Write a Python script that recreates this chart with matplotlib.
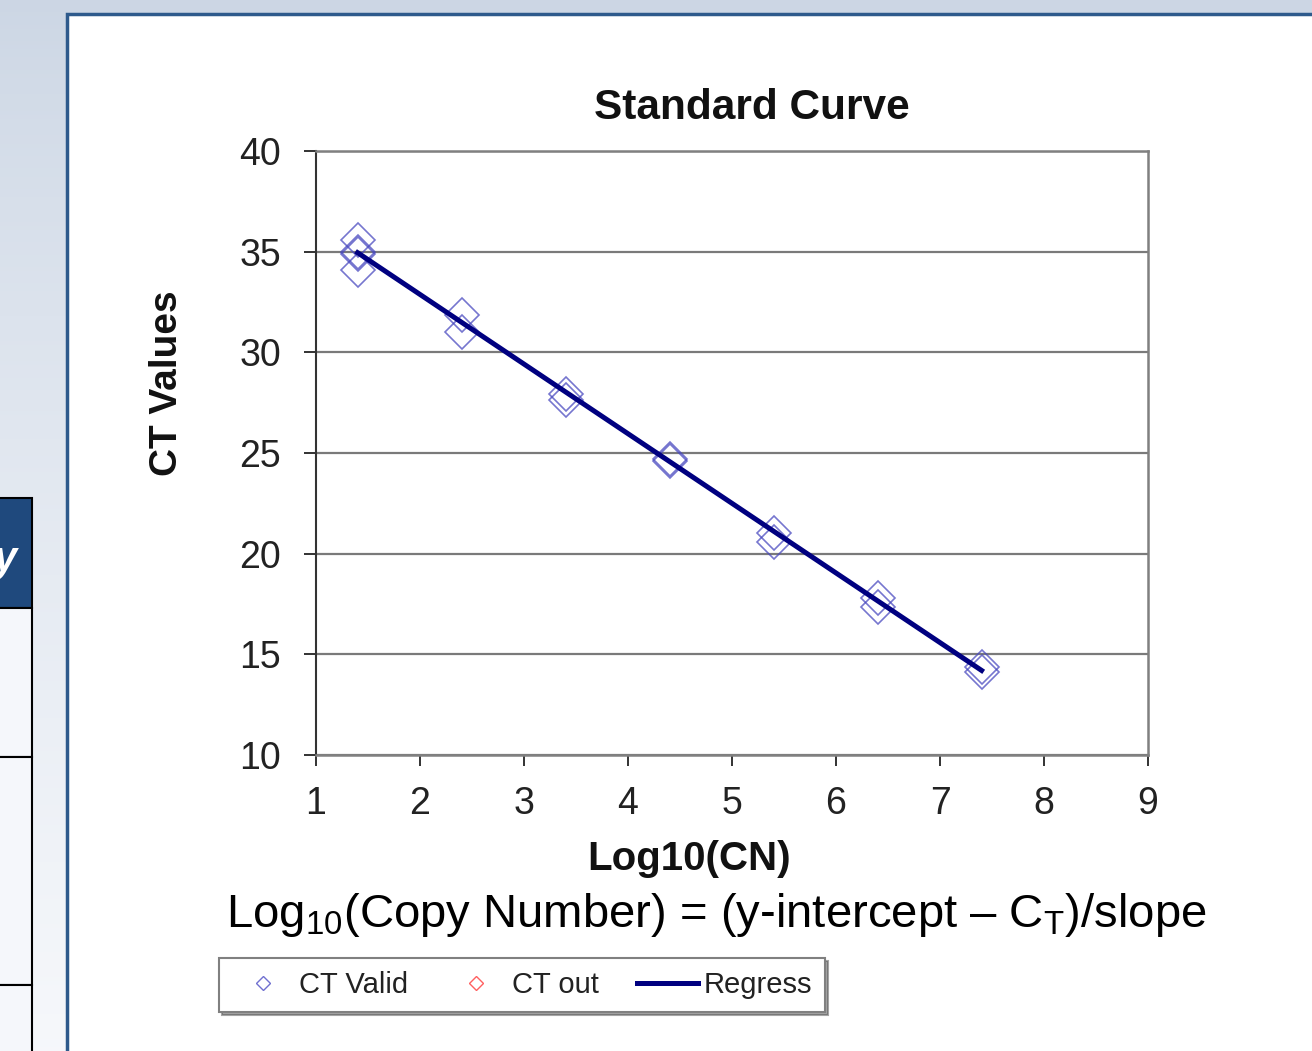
import numpy as np
import matplotlib
matplotlib.use("Agg")
import matplotlib.pyplot as plt
from matplotlib.lines import Line2D
from matplotlib.patches import Rectangle

plt.rcParams['font.family'] = ['Liberation Sans', 'DejaVu Sans']
plt.rcParams['mathtext.fontset'] = 'custom'
plt.rcParams['mathtext.rm'] = 'Liberation Sans'
plt.rcParams['mathtext.default'] = 'regular'

# Daten
log_cn = [1.4, 1.4, 1.4, 1.4, 2.4, 2.4, 3.4, 3.4, 4.4, 4.4, 5.4, 5.4, 6.4, 6.4, 7.4, 7.4]
ct_valid = [35.6, 35.0, 34.9, 34.1, 31.85, 31.0, 27.95, 27.65, 24.7, 24.6, 21.05, 20.6, 17.8, 17.35, 14.35, 14.1]
ct_out_x = []
ct_out_y = []
regress_x = [1.4, 7.4]
regress_y = [34.95, 14.2]

x_ticks = [1, 2, 3, 4, 5, 6, 7, 8, 9]
y_ticks = [10, 15, 20, 25, 30, 35, 40]

W, H = 1312, 1051

def fx(px):
    return px / W

def fy(py):
    return 1 - py / H

fig = plt.figure(figsize=(W / 100, H / 100), dpi=100)

# Hintergrund der Folie
bg = fig.add_axes([0, 0, 1, 1], zorder=-10)
t = np.linspace(0, 1, 256)[:, None]
top = np.array([0.80, 0.84, 0.895])
bottom = np.array([0.965, 0.972, 0.985])
grad = top + (bottom - top) * t ** 0.8
grad = np.repeat(grad[:, None, :], 2, axis=1)
bg.imshow(grad, extent=[0, W, H, 0], aspect='auto')
bg.set_xlim(0, W)
bg.set_ylim(H, 0)
bg.axis('off')

# Tabelle links
kopf = Rectangle((-10, 498), 42, 110, fc='#1f497d', ec='black', lw=1.5)
bg.add_patch(kopf)
for y0, y1 in [(608, 757), (757, 985), (985, 1100)]:
    bg.add_patch(Rectangle((-10, y0), 42, y1 - y0, fc='#f5f7fb', ec='black', lw=1.5))
ytxt = bg.text(-6, 560, 'y', color='white', fontsize=30, fontweight='bold', style='italic',
               va='center', ha='left')
ytxt.set_clip_path(kopf)

# weisses Panel
bg.add_patch(Rectangle((67, 14), 1400, 1200, fc='white', ec='#2e5a8c', lw=2.5))

# Diagramm
ax = fig.add_axes([fx(316), fy(755), fx(1148) - fx(316), fy(151) - fy(755)])
ax.plot(log_cn, ct_valid, ls='none', marker='D', ms=17, mfc='none', mec='#4848c0',
        mew=1.2, alpha=0.75, zorder=3)
ax.plot(ct_out_x, ct_out_y, ls='none', marker='D', ms=17, mfc='none', mec='#ff6060')
ax.plot(regress_x, regress_y, color='#000080', lw=3.6, zorder=4)

ax.set_xlim(1, 9)
ax.set_ylim(10, 40)
ax.set_xticks(x_ticks)
ax.set_yticks(y_ticks)
ax.grid(axis='y', color='#7a7a7a', lw=1.6)
ax.set_axisbelow(True)
for s in ['top', 'right', 'bottom']:
    ax.spines[s].set_color('#808080')
    ax.spines[s].set_linewidth(1.8)
ax.spines['left'].set_color('#333333')
ax.spines['left'].set_linewidth(1.5)
ax.tick_params(axis='y', length=9, width=1.3, pad=16, labelsize=27, colors='#222222')
ax.tick_params(axis='x', length=8, width=1.3, pad=14, labelsize=27, colors='#222222')

fig.text(fx(752), fy(119), 'Standard Curve', fontsize=30.5, fontweight='bold',
         ha='center', va='baseline', color='#111111')
fig.text(fx(689), fy(870), 'Log10(CN)', fontsize=29, fontweight='bold',
         ha='center', va='baseline', color='#111111')
fig.text(fx(167), fy(383), 'CT Values', fontsize=28, fontweight='bold', rotation=90,
         ha='center', va='center', color='#111111')
fig.text(fx(716), fy(927), 'Log$_{10}$(Copy Number) = (y-intercept \u2013 C$_{T}$)/slope',
         fontsize=34, ha='center', va='baseline', color='black')

handles = [
    Line2D([], [], ls='none', marker='D', ms=7, mfc='none', mec='#7070d0', mew=1.0),
    Line2D([], [], ls='none', marker='D', ms=7, mfc='none', mec='#ff6060', mew=1.0),
    Line2D([], [], color='#000080', lw=3.6),
]
leg = fig.legend(handles, ['CT Valid', 'CT out', 'Regress'], ncol=3, loc='center',
                 bbox_to_anchor=(fx(522), fy(985)), fontsize=21, frameon=True,
                 fancybox=False, shadow=True, edgecolor='#808080', handlelength=2.1,
                 handletextpad=0.18, columnspacing=1.3, borderpad=0.45)
leg.get_frame().set_linewidth(1.5)
for txt in leg.get_texts():
    txt.set_color('#222222')

fig.savefig('out.png', dpi=100)
